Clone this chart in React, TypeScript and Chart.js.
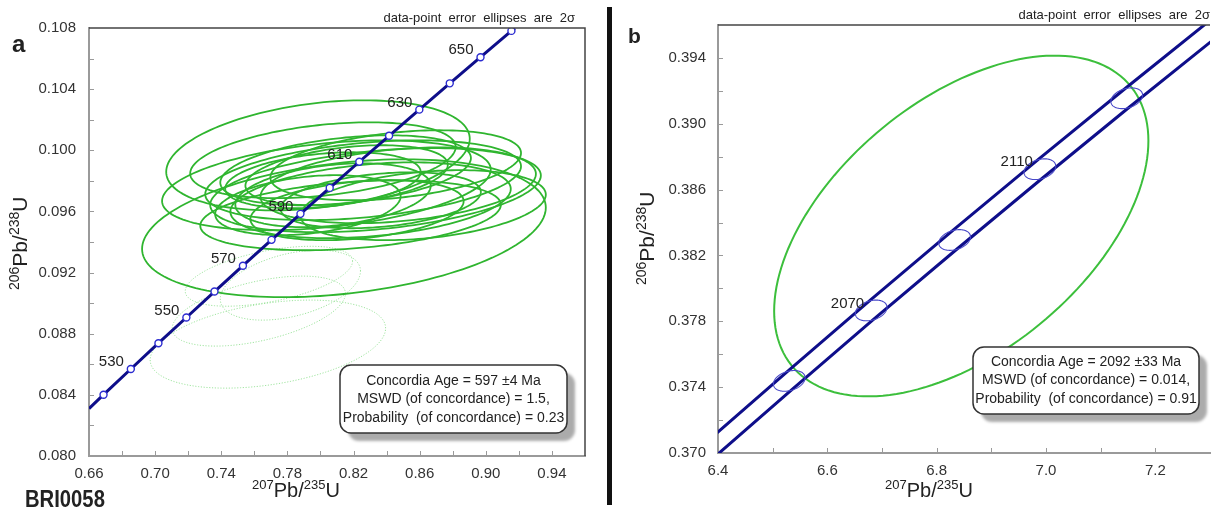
import React, { useEffect, useRef } from "react";
import { Chart, registerables } from "chart.js";
Chart.register(...registerables);

const FONT = '"Liberation Sans", Arial, Helvetica, sans-serif';
const NAVY = "#0e0e8a";
const GREEN = "#2fb52f";

// ---------------- Panel a data ----------------
const aAges = [520, 530, 540, 550, 560, 570, 580, 590, 600, 610, 620, 630, 640, 650, 660];
const aConcX = [0.6688, 0.6853, 0.702, 0.7189, 0.7359, 0.7531, 0.7704, 0.7879, 0.8056, 0.8235, 0.8415, 0.8598, 0.8782, 0.8968, 0.9155];
const aConcY = [0.08401, 0.08569, 0.08738, 0.08906, 0.09076, 0.09245, 0.09414, 0.09584, 0.09754, 0.09925, 0.10095, 0.10266, 0.10438, 0.10609, 0.10781];
const aCurveEndsX = [0.66, 0.9176];
const aCurveEndsY = [0.0831, 0.108];
const aLabelAges = [530, 550, 570, 590, 610, 630, 650];

// solid 2-sigma ellipses (centre, half-extent x, half-extent y, correlation)
const aEllX = [0.7985, 0.8142, 0.8036, 0.8258, 0.8333, 0.8152, 0.8303, 0.8158, 0.8076, 0.847, 0.8182, 0.8221, 0.8455, 0.7924, 0.8364, 0.8015, 0.8621, 0.8015];
const aEllY = [0.09967, 0.0949, 0.09771, 0.09804, 0.09739, 0.09869, 0.09673, 0.09837, 0.09706, 0.09771, 0.09575, 0.09608, 0.09902, 0.09641, 0.09673, 0.09935, 0.09641, 0.09804];
const aEllSX = [0.0918, 0.1221, 0.0994, 0.0955, 0.1, 0.0758, 0.0848, 0.0612, 0.0591, 0.0833, 0.0909, 0.0645, 0.0758, 0.0561, 0.0606, 0.0803, 0.0742, 0.0591];
const aEllSY = [0.0036, 0.00451, 0.00294, 0.00261, 0.00275, 0.00229, 0.00248, 0.00196, 0.00209, 0.00248, 0.00229, 0.00196, 0.00229, 0.00196, 0.00183, 0.00248, 0.00229, 0.00183];
const aEllRho = [0.3, 0.3, 0.35, 0.35, 0.35, 0.35, 0.3, 0.35, 0.3, 0.3, 0.3, 0.3, 0.35, 0.3, 0.3, 0.35, 0.3, 0.3];

// excluded (dotted) ellipses
const aDotX = [0.7682, 0.7627, 0.7688, 0.7818];
const aDotY = [0.08732, 0.08948, 0.09176, 0.09118];
const aDotSX = [0.0712, 0.0524, 0.0506, 0.0424];
const aDotSY = [0.00288, 0.00229, 0.00196, 0.00229];
const aDotRho = [0.36, 0.5, 0.5, 0.4];

const aBoxLines = ["Concordia Age = 597 \u00b14 Ma", "MSWD (of concordance) = 1.5,", "Probability  (of concordance) = 0.23"];

// ---------------- Panel b data ----------------
const bAges = [2030, 2050, 2070, 2090, 2110, 2130, 2150];
const bConcX = [6.3835, 6.5304, 6.6802, 6.8329, 6.9888, 7.1477, 7.3097];
const bConcY = [0.37013, 0.37438, 0.37866, 0.38294, 0.38724, 0.39155, 0.39587];
const bBandUpperY = [0.3708, 0.37505, 0.37933, 0.38361, 0.38791, 0.39222, 0.39654];
const bBandLowerY = [0.36946, 0.37371, 0.37799, 0.38227, 0.38657, 0.39088, 0.3952];
const bMarkerAges = [2050, 2070, 2090, 2110, 2130];
const bMarkerSX = [0.029, 0.029, 0.029, 0.029, 0.029];
const bMarkerSY = [0.00063, 0.00063, 0.00063, 0.00063, 0.00063];
const bMarkerRho = [0.3, 0.3, 0.3, 0.3, 0.3];
const bLabelAges = [2070, 2110];
const bEllX = [6.845];
const bEllY = [0.38379];
const bEllSX = [0.3423];
const bEllSY = [0.01035];
const bEllRho = [0.5];
const bBoxLines = ["Concordia Age = 2092 \u00b133 Ma", "MSWD (of concordance) = 0.014,", "Probability  (of concordance) = 0.91"];

const NOTE = "data-point  error  ellipses  are  2\u03c3";
const TITLE_X: [string, boolean][] = [["207", true], ["Pb/", false], ["235", true], ["U", false]];
const TITLE_Y: [string, boolean][] = [["206", true], ["Pb/", false], ["238", true], ["U", false]];

function ellipsePath(ctx: CanvasRenderingContext2D, xs: any, ys: any, cx: number, cy: number, sx: number, sy: number, rho: number) {
  const k = Math.sqrt(1 - rho * rho);
  ctx.beginPath();
  const n = 160;
  for (let i = 0; i <= n; i++) {
    const th = (i / n) * 2 * Math.PI;
    const x = cx + sx * Math.cos(th);
    const y = cy + sy * (rho * Math.cos(th) + k * Math.sin(th));
    const px = xs.getPixelForValue(x);
    const py = ys.getPixelForValue(y);
    if (i === 0) ctx.moveTo(px, py);
    else ctx.lineTo(px, py);
  }
  ctx.closePath();
}

function drawRich(ctx: CanvasRenderingContext2D, parts: [string, boolean][], x: number, y: number, big: number, small: number) {
  let cur = x;
  for (const [t, sup] of parts) {
    ctx.font = `${sup ? small : big}px ${FONT}`;
    ctx.fillText(t, cur, sup ? y - 8 : y);
    cur += ctx.measureText(t).width;
  }
}

function inwardTicks(ctx: CanvasRenderingContext2D, chart: any) {
  const { left, right, top, bottom } = chart.chartArea;
  const xs = chart.scales.x;
  const ys = chart.scales.y;
  ctx.save();
  ctx.strokeStyle = "#9a9a9a";
  ctx.lineWidth = 1;
  ctx.beginPath();
  for (const t of xs.ticks) {
    const p = Math.round(xs.getPixelForValue(t.value)) + 0.5;
    if (p <= left + 2 || p >= right - 1) continue;
    ctx.moveTo(p, bottom);
    ctx.lineTo(p, bottom - 5);
  }
  for (const t of ys.ticks) {
    const p = Math.round(ys.getPixelForValue(t.value)) + 0.5;
    if (p <= top + 1 || p >= bottom - 2) continue;
    ctx.moveTo(left, p);
    ctx.lineTo(left + 5, p);
  }
  ctx.stroke();
  ctx.restore();
}

function drawBox(ctx: CanvasRenderingContext2D, x0: number, y0: number, x1: number, y1: number, lines: string[], lineYs: number[]) {
  ctx.save();
  ctx.shadowColor = "rgba(0,0,0,0.33)";
  ctx.shadowBlur = 3;
  ctx.shadowOffsetX = 8;
  ctx.shadowOffsetY = 8;
  ctx.beginPath();
  (ctx as any).roundRect(x0, y0, x1 - x0, y1 - y0, 11);
  ctx.fillStyle = "#fff";
  ctx.fill();
  ctx.restore();
  ctx.save();
  ctx.beginPath();
  (ctx as any).roundRect(x0, y0, x1 - x0, y1 - y0, 11);
  ctx.strokeStyle = "#333";
  ctx.lineWidth = 1.5;
  ctx.stroke();
  ctx.fillStyle = "#222";
  ctx.font = `14px ${FONT}`;
  ctx.textAlign = "center";
  ctx.textBaseline = "middle";
  const cx = (x0 + x1) / 2;
  lines.forEach((l, i) => ctx.fillText(l, cx, lineYs[i]));
  ctx.restore();
}

function clipArea(ctx: CanvasRenderingContext2D, chart: any) {
  const { left, right, top, bottom } = chart.chartArea;
  ctx.beginPath();
  ctx.rect(left, top, right - left, bottom - top);
  ctx.clip();
}

function ageLabels(ctx: CanvasRenderingContext2D, chart: any, ages: number[], xs: number[], ys: number[], labelAges: number[]) {
  const sx = chart.scales.x;
  const sy = chart.scales.y;
  ctx.save();
  ctx.fillStyle = "#222";
  ctx.font = `15px ${FONT}`;
  ctx.textAlign = "right";
  ctx.textBaseline = "middle";
  labelAges.forEach((a) => {
    const i = ages.indexOf(a);
    if (i < 0) return;
    const px = sx.getPixelForValue(xs[i]);
    const py = sy.getPixelForValue(ys[i]);
    ctx.fillText(String(a), px - 7, py - 7);
  });
  ctx.restore();
}

function axisOpts(min: number, max: number, step: number, cb: (v: number) => string, fit: (s: any) => void, pad: number) {
  return {
    type: "linear" as const,
    min,
    max,
    afterFit: fit,
    ticks: {
      stepSize: step,
      autoSkip: false,
      maxRotation: 0,
      padding: pad,
      color: "#333",
      font: { family: FONT, size: 15 },
      callback: (v: any) => cb(Number(v)),
    },
    grid: { display: true, drawOnChartArea: false, drawTicks: false },
    border: { display: true, color: "#9a9a9a", width: 2 },
  };
}

function makeA(canvas: HTMLCanvasElement) {
  const plugin = {
    id: "panelA",
    beforeDatasetsDraw(chart: any) {
      const ctx = chart.ctx as CanvasRenderingContext2D;
      const xs = chart.scales.x;
      const ys = chart.scales.y;
      ctx.save();
      clipArea(ctx, chart);
      ctx.strokeStyle = "#9fe49f";
      ctx.lineWidth = 1;
      ctx.setLineDash([1.2, 1.6]);
      aDotX.forEach((_, i) => {
        ellipsePath(ctx, xs, ys, aDotX[i], aDotY[i], aDotSX[i], aDotSY[i], aDotRho[i]);
        ctx.stroke();
      });
      ctx.setLineDash([]);
      ctx.strokeStyle = GREEN;
      ctx.lineWidth = 1.8;
      aEllX.forEach((_, i) => {
        ellipsePath(ctx, xs, ys, aEllX[i], aEllY[i], aEllSX[i], aEllSY[i], aEllRho[i]);
        ctx.stroke();
      });
      ctx.restore();
    },
    afterDatasetsDraw(chart: any) {
      ageLabels(chart.ctx, chart, aAges, aConcX, aConcY, aLabelAges);
    },
    afterDraw(chart: any) {
      const ctx = chart.ctx as CanvasRenderingContext2D;
      const { left, right, top, bottom } = chart.chartArea;
      inwardTicks(ctx, chart);
      ctx.save();
      ctx.strokeStyle = "#444";
      ctx.lineWidth = 1.5;
      ctx.beginPath();
      ctx.moveTo(left, top);
      ctx.lineTo(right, top);
      ctx.lineTo(right, bottom);
      ctx.stroke();
      ctx.fillStyle = "#222";
      ctx.textBaseline = "alphabetic";
      ctx.textAlign = "left";
      drawRich(ctx, TITLE_X, 252, 497, 20, 13);
      ctx.save();
      ctx.translate(27, 290);
      ctx.rotate(-Math.PI / 2);
      drawRich(ctx, TITLE_Y, 0, 0, 21, 14);
      ctx.restore();
      ctx.font = `13px ${FONT}`;
      ctx.textAlign = "right";
      ctx.fillText(NOTE, 575, 22);
      ctx.textAlign = "left";
      ctx.font = `bold 24px ${FONT}`;
      ctx.fillText("a", 12, 52);
      ctx.save();
      ctx.translate(25, 507);
      ctx.scale(0.88, 1);
      ctx.font = `bold 23px ${FONT}`;
      ctx.fillText("BRI0058", 0, 0);
      ctx.restore();
      ctx.restore();
      drawBox(ctx, 340, 365, 567, 433, aBoxLines, [381, 399.5, 418]);
    },
  };
  const lineX = [aCurveEndsX[0], ...aConcX, aCurveEndsX[1]];
  const lineY = [aCurveEndsY[0], ...aConcY, aCurveEndsY[1]];
  return new Chart(canvas, {
    type: "scatter",
    data: {
      datasets: [
        {
          data: lineX.map((x, i) => ({ x, y: lineY[i] })),
          showLine: true,
          borderColor: NAVY,
          borderWidth: 3,
          pointRadius: 0,
          clip: 0,
          order: 2,
        } as any,
        {
          data: aConcX.map((x, i) => ({ x, y: aConcY[i] })),
          showLine: false,
          pointRadius: 3.5,
          pointBackgroundColor: "#ffffff",
          pointBorderColor: "#2b2bd0",
          pointBorderWidth: 1.4,
          order: 1,
        } as any,
      ],
    },
    options: {
      responsive: false,
      animation: false,
      layout: { padding: { left: 0, top: 28, right: 15, bottom: 0 } },
      plugins: { legend: { display: false }, tooltip: { enabled: false } },
      scales: {
        x: axisOpts(0.66, 0.96, 0.02, (v) => (Math.round(v * 100) % 4 === 2 ? v.toFixed(2) : ""), (s: any) => { s.height = 55; }, 9),
        y: axisOpts(0.08, 0.108, 0.002, (v) => (Math.round(v * 1000) % 4 === 0 ? v.toFixed(3) : ""), (s: any) => { s.width = 89; }, 13),
      },
    } as any,
    plugins: [plugin],
  });
}

function makeB(canvas: HTMLCanvasElement) {
  const plugin = {
    id: "panelB",
    beforeDatasetsDraw(chart: any) {
      const ctx = chart.ctx as CanvasRenderingContext2D;
      const xs = chart.scales.x;
      const ys = chart.scales.y;
      ctx.save();
      clipArea(ctx, chart);
      ctx.strokeStyle = "#3cbf3c";
      ctx.lineWidth = 2;
      bEllX.forEach((_, i) => {
        ellipsePath(ctx, xs, ys, bEllX[i], bEllY[i], bEllSX[i], bEllSY[i], bEllRho[i]);
        ctx.stroke();
      });
      ctx.restore();
    },
    afterDatasetsDraw(chart: any) {
      const ctx = chart.ctx as CanvasRenderingContext2D;
      const xs = chart.scales.x;
      const ys = chart.scales.y;
      ctx.save();
      clipArea(ctx, chart);
      ctx.strokeStyle = "#4848c8";
      ctx.lineWidth = 1.1;
      bMarkerAges.forEach((a, i) => {
        const k = bAges.indexOf(a);
        ellipsePath(ctx, xs, ys, bConcX[k], bConcY[k], bMarkerSX[i], bMarkerSY[i], bMarkerRho[i]);
        ctx.stroke();
      });
      ctx.restore();
      ageLabels(ctx, chart, bAges, bConcX, bConcY, bLabelAges);
    },
    afterDraw(chart: any) {
      const ctx = chart.ctx as CanvasRenderingContext2D;
      const { left, right, top } = chart.chartArea;
      inwardTicks(ctx, chart);
      ctx.save();
      ctx.strokeStyle = "#444";
      ctx.lineWidth = 1.5;
      ctx.beginPath();
      ctx.moveTo(left, top);
      ctx.lineTo(right, top);
      ctx.stroke();
      ctx.fillStyle = "#222";
      ctx.textBaseline = "alphabetic";
      ctx.textAlign = "left";
      drawRich(ctx, TITLE_X, 275, 497, 20, 13);
      ctx.save();
      ctx.translate(44, 285);
      ctx.rotate(-Math.PI / 2);
      drawRich(ctx, TITLE_Y, 0, 0, 21, 14);
      ctx.restore();
      ctx.font = `13px ${FONT}`;
      ctx.textAlign = "right";
      ctx.fillText(NOTE, 600, 19);
      ctx.textAlign = "left";
      ctx.font = `bold 21px ${FONT}`;
      ctx.fillText("b", 18, 43);
      ctx.restore();
      drawBox(ctx, 363, 347, 589, 414, bBoxLines, [362, 380.5, 399]);
    },
  };
  return new Chart(canvas, {
    type: "scatter",
    data: {
      datasets: [
        {
          data: bConcX.map((x, i) => ({ x, y: bBandUpperY[i] })),
          showLine: true,
          borderColor: NAVY,
          borderWidth: 3,
          pointRadius: 0,
          clip: 0,
        } as any,
        {
          data: bConcX.map((x, i) => ({ x, y: bBandLowerY[i] })),
          showLine: true,
          borderColor: NAVY,
          borderWidth: 3,
          pointRadius: 0,
          clip: 0,
        } as any,
      ],
    },
    options: {
      responsive: false,
      animation: false,
      layout: { padding: { left: 0, top: 25, right: 0, bottom: 0 } },
      plugins: { legend: { display: false }, tooltip: { enabled: false } },
      scales: {
        x: axisOpts(6.4, 7.3, 0.1, (v) => (Math.round(v * 10) % 2 === 0 ? v.toFixed(1) : ""), (s: any) => { s.height = 58; }, 9),
        y: axisOpts(0.37, 0.396, 0.002, (v) => (Math.round(v * 1000) % 4 === 2 ? v.toFixed(3) : ""), (s: any) => { s.width = 108; }, 12),
      },
    } as any,
    plugins: [plugin],
  });
}

export default function App() {
  const refA = useRef<HTMLCanvasElement>(null);
  const refB = useRef<HTMLCanvasElement>(null);
  useEffect(() => {
    const a = makeA(refA.current!);
    const b = makeB(refB.current!);
    return () => {
      a.destroy();
      b.destroy();
    };
  }, []);
  return (
    <div style={{ position: "fixed", left: 0, top: 0, width: 1219, height: 511, background: "#fff", overflow: "hidden" }}>
      <canvas ref={refA} width={600} height={511} style={{ position: "absolute", left: 0, top: 0, width: 600, height: 511 }} />
      <div style={{ position: "absolute", left: 607, top: 7, width: 5, height: 498, background: "#111" }} />
      <canvas ref={refB} width={609} height={511} style={{ position: "absolute", left: 610, top: 0, width: 609, height: 511 }} />
    </div>
  );
}
